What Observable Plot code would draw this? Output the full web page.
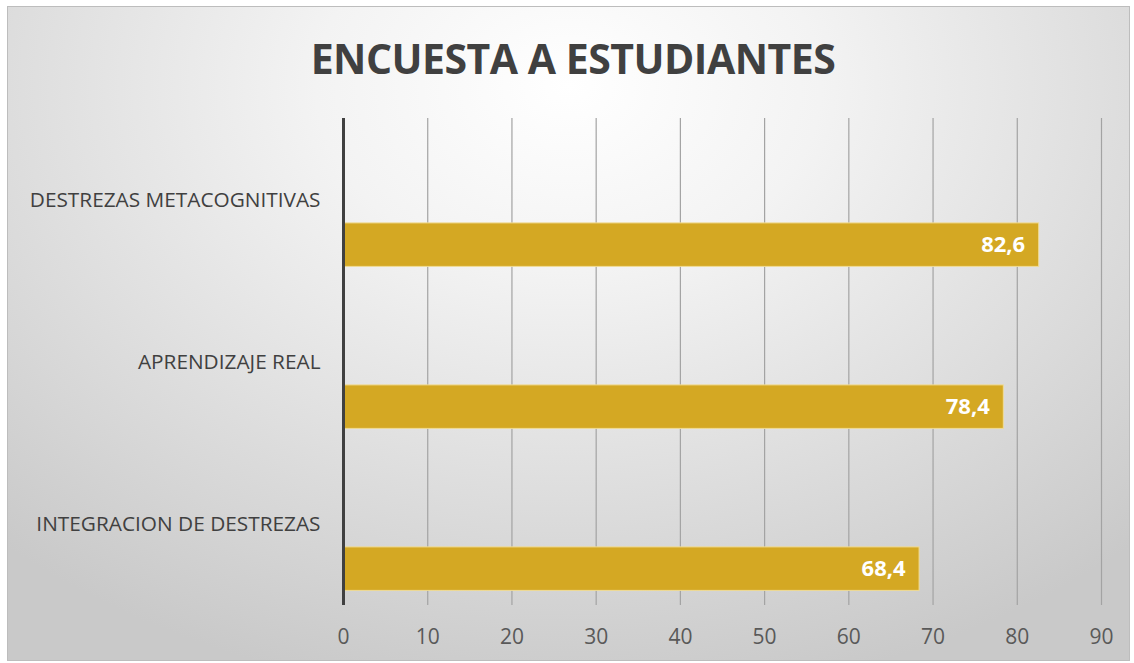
<!DOCTYPE html>
<html>
<head>
<meta charset="utf-8">
<script src="https://cdn.jsdelivr.net/npm/d3@7"></script>
<script src="https://cdn.jsdelivr.net/npm/@observablehq/plot@0.6"></script>
<style>
  html, body { margin: 0; padding: 0; background: #ffffff; }
  #frame {
    position: absolute; left: 7px; top: 6px; width: 1123px; height: 655px;
    border: 1px solid #bdbdbd; box-sizing: border-box; overflow: hidden;
    background: radial-gradient(ellipse 75% 95% at 50% 12%, #ffffff 0%, #f3f3f3 30%, #dedede 65%, #c9c9c9 100%);
  }
  #title {
    position: absolute; left: 6px; top: 0; width: 1134px; height: 110px;
    text-align: center; font-family: "Open Sans", sans-serif; font-weight: 700;
    font-size: 41px; color: #404040; line-height: 116px; letter-spacing: -0.5px;
  }
  #chart { position: absolute; left: 0; top: 110px; }
</style>
</head>
<body>
<div id="frame"></div>
<div id="title">ENCUESTA A ESTUDIANTES</div>
<div id="chart"></div>
<script>
const categories = ["DESTREZAS METACOGNITIVAS", "APRENDIZAJE REAL", "INTEGRACION DE DESTREZAS"];
const values = [82.6, 78.4, 68.4];
const labels = ["82,6", "78,4", "68,4"];
const xTicks = [0, 10, 20, 30, 40, 50, 60, 70, 80, 90];

const data = categories.map((c, i) => ({category: c, value: values[i], label: labels[i]}));

const W = 1134, H = 545;
const mTop = 8, mBottom = 50, mLeft = 343, mRight = 33;
const band = (H - mTop - mBottom) / categories.length;

const chart = Plot.plot({
  width: W,
  height: H,
  marginTop: mTop,
  marginBottom: mBottom,
  marginLeft: mLeft,
  marginRight: mRight,
  style: {background: "transparent", fontFamily: "Open Sans, sans-serif"},
  x: {domain: [0, 90], ticks: xTicks, tickSize: 0, tickPadding: 24, label: null, tickFormat: d => String(d)},
  y: {domain: categories, padding: 0, tickSize: 0, tickPadding: 23, label: null},
  marks: [
    Plot.ruleX(xTicks.filter(d => d > 0), {stroke: "#a3a3a3", strokeWidth: 1.2}),
    Plot.barX(data, {
      y: "category", x: "value", fill: "#D4A823", stroke: "#f0dc96", strokeWidth: 1,
      insetTop: band * 0.64, insetBottom: band * 0.09
    }),
    Plot.ruleX([0], {stroke: "#404040", strokeWidth: 3}),
    Plot.text(data, {
      y: "category", x: "value", text: "label", fill: "white", fontWeight: "bold",
      fontSize: 22, textAnchor: "end", dx: -14, dy: band * 0.275
    })
  ]
});

const xa = chart.querySelector('g[aria-label="x-axis tick label"]');
if (xa) { xa.setAttribute("font-size", "21"); xa.setAttribute("fill", "#595959"); }
const ya = chart.querySelector('g[aria-label="y-axis tick label"]');
if (ya) { ya.setAttribute("font-size", "20.8"); ya.setAttribute("fill", "#404040"); }

document.getElementById("chart").appendChild(chart);
</script>
</body>
</html>
